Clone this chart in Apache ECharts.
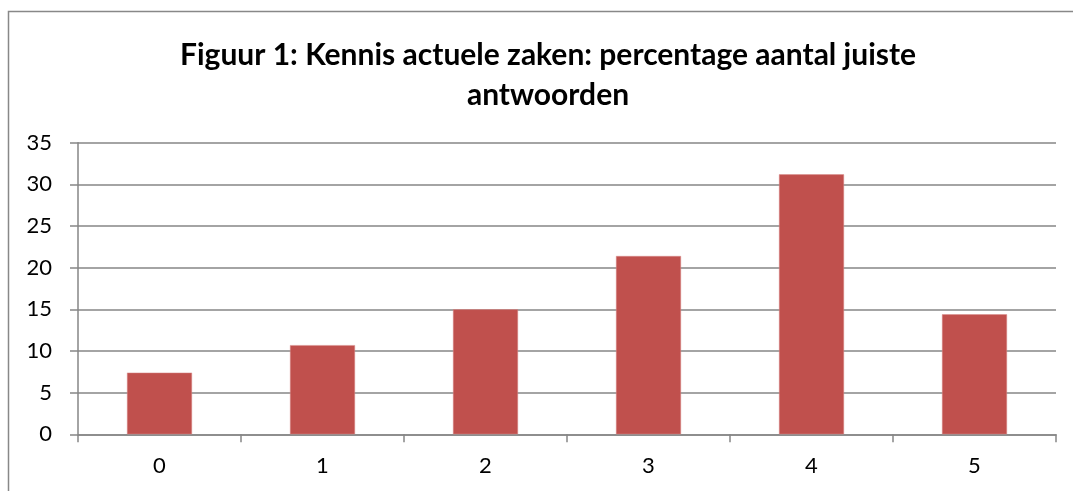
<!DOCTYPE html>
<html><head><meta charset="utf-8">
<script src="https://cdn.jsdelivr.net/npm/echarts@6/dist/echarts.min.js"></script>
<style>html,body{margin:0;padding:0;background:#fff}#c{width:1073px;height:491px}</style>
</head><body><div id="c"></div>
<script>
const categories = ['0','1','2','3','4','5'];
const values = [7.4, 10.7, 15.0, 21.4, 31.2, 14.4];
const titleText = 'Figuur 1: Kennis actuele zaken: percentage aantal juiste\nantwoorden';

const chart = echarts.init(document.getElementById('c'), null, {renderer:'canvas'});
chart.setOption({
  animation:false,
  backgroundColor:'#fff',
  graphic:[{type:'rect',shape:{x:8.5,y:11.5,width:1200,height:600},style:{fill:'none',stroke:'#888',lineWidth:1.5},silent:true}],
  title:{text:titleText,left:543,top:30,textAlign:'center',textStyle:{fontFamily:'Lato',fontWeight:'bold',fontSize:30,color:'#000',lineHeight:40}},
  grid:{left:78,right:17,top:142.7,bottom:56.7,containLabel:false},
  xAxis:{type:'category',data:categories,
    axisLine:{lineStyle:{color:'#868686',width:1.5}},
    axisTick:{show:true,length:8,lineStyle:{color:'#868686',width:1.5}},
    axisLabel:{fontFamily:'Lato',fontSize:22,color:'#000',margin:21}},
  yAxis:{type:'value',min:0,max:35,interval:5,
    axisLine:{show:true,lineStyle:{color:'#868686',width:1.5}},
    axisTick:{show:true,length:8,lineStyle:{color:'#868686',width:1.5}},
    splitLine:{lineStyle:{color:'#868686',width:1.5}},
    axisLabel:{fontFamily:'Lato',fontSize:22,color:'#000',margin:26}},
  series:[{type:'bar',data:values,barWidth:65,itemStyle:{color:'#C0504D',borderColor:'#D88C8A',borderWidth:0.5}}]
});
</script></body></html>
